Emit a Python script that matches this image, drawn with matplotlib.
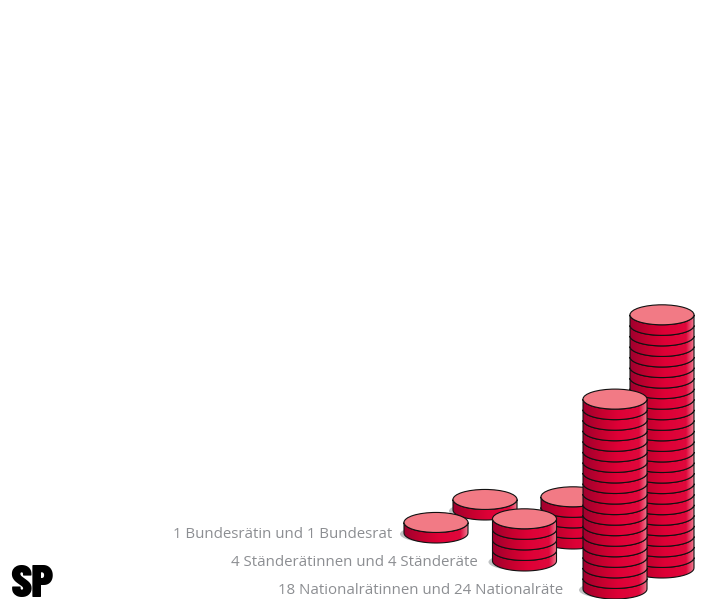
import numpy as np
import matplotlib
matplotlib.use("Agg")
import matplotlib.pyplot as plt
from matplotlib.colors import LinearSegmentedColormap
from matplotlib.patches import Ellipse, PathPatch
from matplotlib.path import Path

# coins per stack: Bundesrat, Ständerat, Nationalrat (women, men)
labels = ["1 Bundesrätin und 1 Bundesrat",
          "4 Ständerätinnen und 4 Ständeräte",
          "18 Nationalrätinnen und 24 Nationalräte"]
women = [1, 4, 18]
men = [1, 4, 24]

# where the stacks stand
x_women = [436, 524.5, 615]
x_men = [485, 573, 662]
base_women = [533, 561, 589]
base_men = [510, 539, 568]
label_right = [392, 478, 563]
label_y = [535, 563, 591]

RX = 32
RY = 10
COIN_H = 10.55

side_cmap = LinearSegmentedColormap.from_list(
    "side", [(0, "#a0002e"), (0.3, "#c6002f"), (0.55, "#de0036"),
             (0.88, "#e0083c"), (1, "#ee7c90")])

fig = plt.figure(figsize=(7.02, 5.99), dpi=100)
ax = fig.add_axes([0, 0, 1, 1])
ax.set_xlim(0, 702)
ax.set_ylim(599, 0)
ax.axis("off")


def coin_side(x, y, z):
    # y is the centre of the lower ellipse
    t = np.linspace(0, np.pi, 40)
    bottom = np.column_stack([x + RX * np.cos(t), y + RY * np.sin(t)])
    top = np.column_stack([x - RX * np.cos(t), y - COIN_H + RY * np.sin(t)])
    verts = np.vstack([bottom, top, bottom[:1]])
    path = Path(verts)
    im = ax.imshow(np.linspace(0, 1, 128).reshape(1, -1), cmap=side_cmap,
                   extent=[x - RX, x + RX, y + RY + 1, y - COIN_H - RY - 1],
                   aspect="auto", zorder=z)
    patch = PathPatch(path, fc="none", ec="#111111", lw=0.8, zorder=z + 0.1)
    ax.add_patch(patch)
    im.set_clip_path(patch)


def stack(x, base, n, z):
    ax.add_patch(Ellipse((x - 4, base + 1), RX * 2, RY * 1.7, fc="#c0c2c4",
                         ec="none", zorder=z - 0.5))
    for i in range(n):
        coin_side(x, base - i * COIN_H, z + i * 0.2)
    top_y = base - n * COIN_H
    ax.add_patch(Ellipse((x, top_y), RX * 2, RY * 2, fc="#f27a85", ec="#111111",
                         lw=0.8, zorder=z + n * 0.2))


# painted back to front
stack(x_men[0], base_men[0], men[0], 10)
stack(x_men[1], base_men[1], men[1], 20)
stack(x_women[0], base_women[0], women[0], 30)
stack(x_women[1], base_women[1], women[1], 40)
stack(x_men[2], base_men[2], men[2], 50)
stack(x_women[2], base_women[2], women[2], 70)

ax.set_xlim(0, 702)
ax.set_ylim(599, 0)

for txt, xr, yy in zip(labels, label_right, label_y):
    ax.text(xr, yy, txt, ha="right", va="center", color="#8c8e92",
            fontsize=10.8, family="Open Sans", zorder=5)

ax.text(10, 597, "SP", ha="left", va="baseline", color="black", fontsize=33,
        family=["Barlow Condensed", "Liberation Sans"], fontweight=900)

fig.savefig("out.png", dpi=100)
